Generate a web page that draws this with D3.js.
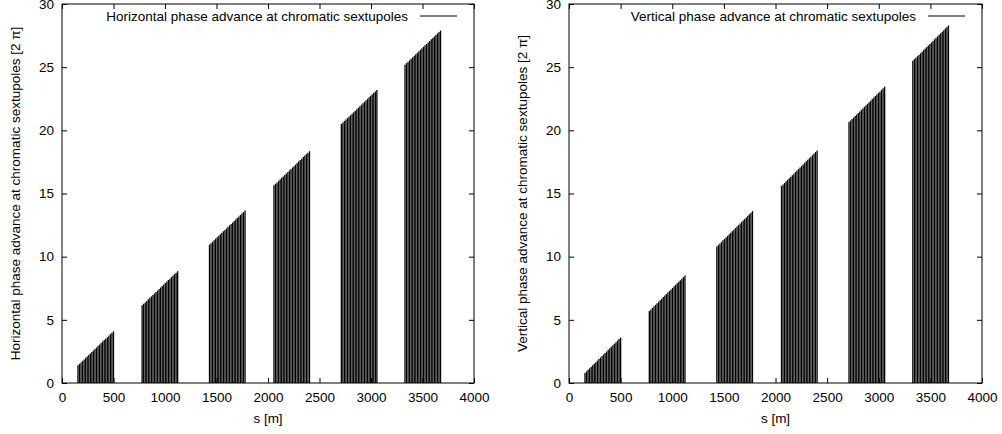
<!DOCTYPE html>
<html>
<head>
<meta charset="utf-8">
<script src="https://cdn.jsdelivr.net/npm/d3@7.9.0/dist/d3.min.js"></script>
<style>
  body { margin: 0; background: #fff; }
  svg { display: block; font-family: "Liberation Sans", Arial, sans-serif; }
  .tick text { font-size: 13.5px; fill: #000; }
</style>
</head>
<body>
<svg id="chart" width="1002" height="434"></svg>
<script>
// sextupole positions along the ring [m], one list per arc
const sArc1 = [155,170,185,200,215,230,245,260,275,290,305,320,335,350,365,380,395,410,425,440,455,470,485,500];
const sArc2 = [778,793,808,823,838,853,868,883,898,913,928,943,958,973,988,1003,1018,1033,1048,1063,1078,1093,1108,1123];
const sArc3 = [1432,1447,1462,1477,1492,1507,1522,1537,1552,1567,1582,1597,1612,1627,1642,1657,1672,1687,1702,1717,1732,1747,1762,1777];
const sArc4 = [2058,2073,2088,2103,2118,2133,2148,2163,2178,2193,2208,2223,2238,2253,2268,2283,2298,2313,2328,2343,2358,2373,2388,2403];
const sArc5 = [2712,2727,2742,2757,2772,2787,2802,2817,2832,2847,2862,2877,2892,2907,2922,2937,2952,2967,2982,2997,3012,3027,3042,3057];
const sArc6 = [3330,3345,3360,3375,3390,3405,3420,3435,3450,3465,3480,3495,3510,3525,3540,3555,3570,3585,3600,3615,3630,3645,3660,3675];

// horizontal phase advance [2 pi]
const muxArc1 = [1.40,1.52,1.63,1.75,1.87,1.99,2.10,2.22,2.34,2.46,2.57,2.69,2.81,2.93,3.04,3.16,3.28,3.40,3.51,3.63,3.75,3.87,3.98,4.10];
const muxArc2 = [6.15,6.27,6.38,6.50,6.62,6.74,6.85,6.97,7.09,7.21,7.32,7.44,7.56,7.68,7.79,7.91,8.03,8.15,8.26,8.38,8.50,8.62,8.73,8.85];
const muxArc3 = [10.95,11.07,11.18,11.30,11.42,11.54,11.65,11.77,11.89,12.01,12.12,12.24,12.36,12.48,12.59,12.71,12.83,12.95,13.06,13.18,13.30,13.42,13.53,13.65];
const muxArc4 = [15.65,15.77,15.88,16.00,16.12,16.24,16.35,16.47,16.59,16.71,16.82,16.94,17.06,17.18,17.29,17.41,17.53,17.65,17.76,17.88,18.00,18.12,18.23,18.35];
const muxArc5 = [20.50,20.62,20.73,20.85,20.97,21.09,21.20,21.32,21.44,21.56,21.67,21.79,21.91,22.03,22.14,22.26,22.38,22.50,22.61,22.73,22.85,22.97,23.08,23.20];
const muxArc6 = [25.20,25.32,25.43,25.55,25.67,25.79,25.90,26.02,26.14,26.26,26.37,26.49,26.61,26.73,26.84,26.96,27.08,27.20,27.31,27.43,27.55,27.67,27.78,27.90];

// vertical phase advance [2 pi]
const muyArc1 = [0.80,0.92,1.04,1.17,1.29,1.41,1.53,1.65,1.77,1.90,2.02,2.14,2.26,2.38,2.50,2.63,2.75,2.87,2.99,3.11,3.23,3.36,3.48,3.60];
const muyArc2 = [5.70,5.82,5.94,6.07,6.19,6.31,6.43,6.55,6.67,6.80,6.92,7.04,7.16,7.28,7.40,7.53,7.65,7.77,7.89,8.01,8.13,8.26,8.38,8.50];
const muyArc3 = [10.80,10.92,11.04,11.17,11.29,11.41,11.53,11.65,11.77,11.90,12.02,12.14,12.26,12.38,12.50,12.63,12.75,12.87,12.99,13.11,13.23,13.36,13.48,13.60];
const muyArc4 = [15.60,15.72,15.84,15.97,16.09,16.21,16.33,16.45,16.57,16.70,16.82,16.94,17.06,17.18,17.30,17.43,17.55,17.67,17.79,17.91,18.03,18.16,18.28,18.40];
const muyArc5 = [20.65,20.77,20.89,21.02,21.14,21.26,21.38,21.50,21.62,21.75,21.87,21.99,22.11,22.23,22.35,22.48,22.60,22.72,22.84,22.96,23.08,23.21,23.33,23.45];
const muyArc6 = [25.50,25.62,25.74,25.87,25.99,26.11,26.23,26.35,26.47,26.60,26.72,26.84,26.96,27.08,27.20,27.33,27.45,27.57,27.69,27.81,27.93,28.06,28.18,28.30];

const xTicks = [0, 500, 1000, 1500, 2000, 2500, 3000, 3500, 4000];
const yTicks = [0, 5, 10, 15, 20, 25, 30];

const sAll = [sArc1, sArc2, sArc3, sArc4, sArc5, sArc6];
const muxAll = [muxArc1, muxArc2, muxArc3, muxArc4, muxArc5, muxArc6];
const muyAll = [muyArc1, muyArc2, muyArc3, muyArc4, muyArc5, muyArc6];

function pairUp(sArcs, muArcs) {
  let pts = [];
  sArcs.forEach((arc, i) => {
    arc.forEach((s, j) => pts.push({ s: s, mu: muArcs[i][j] }));
  });
  return pts;
}

const svg = d3.select('#chart');
const fontSize = 13.5;

function drawPanel(left, right, ylabel, legendText, legendEnd, points) {
  const top = 4, bottom = 383;
  let x = d3.scaleLinear().domain([0, 4000]).range([left, right]);
  let y = d3.scaleLinear().domain([0, 30]).range([bottom, top]);
  let g = svg.append('g');

  // impulses
  g.append('g')
    .selectAll('line')
    .data(points)
    .join('line')
    .attr('x1', d => x(d.s))
    .attr('x2', d => x(d.s))
    .attr('y1', y(0))
    .attr('y2', d => y(d.mu))
    .attr('stroke', '#000')
    .attr('stroke-width', 1.3);

  // axes with inward ticks on all sides
  g.append('g').attr('transform', `translate(0,${bottom})`)
    .call(d3.axisBottom(x).tickValues(xTicks).tickSizeInner(-5).tickSizeOuter(0).tickPadding(9).tickFormat(d3.format('d')));
  g.append('g').attr('transform', `translate(0,${top})`)
    .call(d3.axisTop(x).tickValues(xTicks).tickSizeInner(-5).tickSizeOuter(0).tickFormat(''));
  g.append('g').attr('transform', `translate(${left},0)`)
    .call(d3.axisLeft(y).tickValues(yTicks).tickSizeInner(-5).tickSizeOuter(0).tickPadding(8).tickFormat(d3.format('d')));
  g.append('g').attr('transform', `translate(${right},0)`)
    .call(d3.axisRight(y).tickValues(yTicks).tickSizeInner(-5).tickSizeOuter(0).tickFormat(''));
  g.selectAll('.domain').remove();
  g.selectAll('.tick line').attr('stroke', '#000');
  g.selectAll('.tick text').attr('font-family', '"Liberation Sans", Arial, sans-serif');

  // frame
  g.append('rect')
    .attr('x', left).attr('y', top)
    .attr('width', right - left).attr('height', bottom - top)
    .attr('fill', 'none').attr('stroke', '#000').attr('stroke-width', 1);

  // axis titles
  g.append('text')
    .attr('x', (left + right) / 2).attr('y', 423)
    .attr('text-anchor', 'middle')
    .attr('font-size', fontSize).attr('fill', '#000')
    .text('s [m]');
  g.append('text')
    .attr('transform', `translate(${left - 42},${(top + bottom) / 2}) rotate(-90)`)
    .attr('text-anchor', 'middle')
    .attr('font-size', fontSize).attr('fill', '#000')
    .text(ylabel);

  // legend
  g.append('text')
    .attr('x', legendEnd - 49).attr('y', 20.5)
    .attr('text-anchor', 'end')
    .attr('font-size', fontSize).attr('fill', '#000')
    .text(legendText);
  g.append('line')
    .attr('x1', legendEnd - 37).attr('x2', legendEnd)
    .attr('y1', 16).attr('y2', 16)
    .attr('stroke', '#000').attr('stroke-width', 1);
}

drawPanel(62, 474, 'Horizontal phase advance at chromatic sextupoles [2 \u03c0]',
  'Horizontal phase advance at chromatic sextupoles', 457, pairUp(sAll, muxAll));
drawPanel(569, 982, 'Vertical phase advance at chromatic sextupoles [2 \u03c0]',
  'Vertical phase advance at chromatic sextupoles', 965, pairUp(sAll, muyAll));
</script>
</body>
</html>
